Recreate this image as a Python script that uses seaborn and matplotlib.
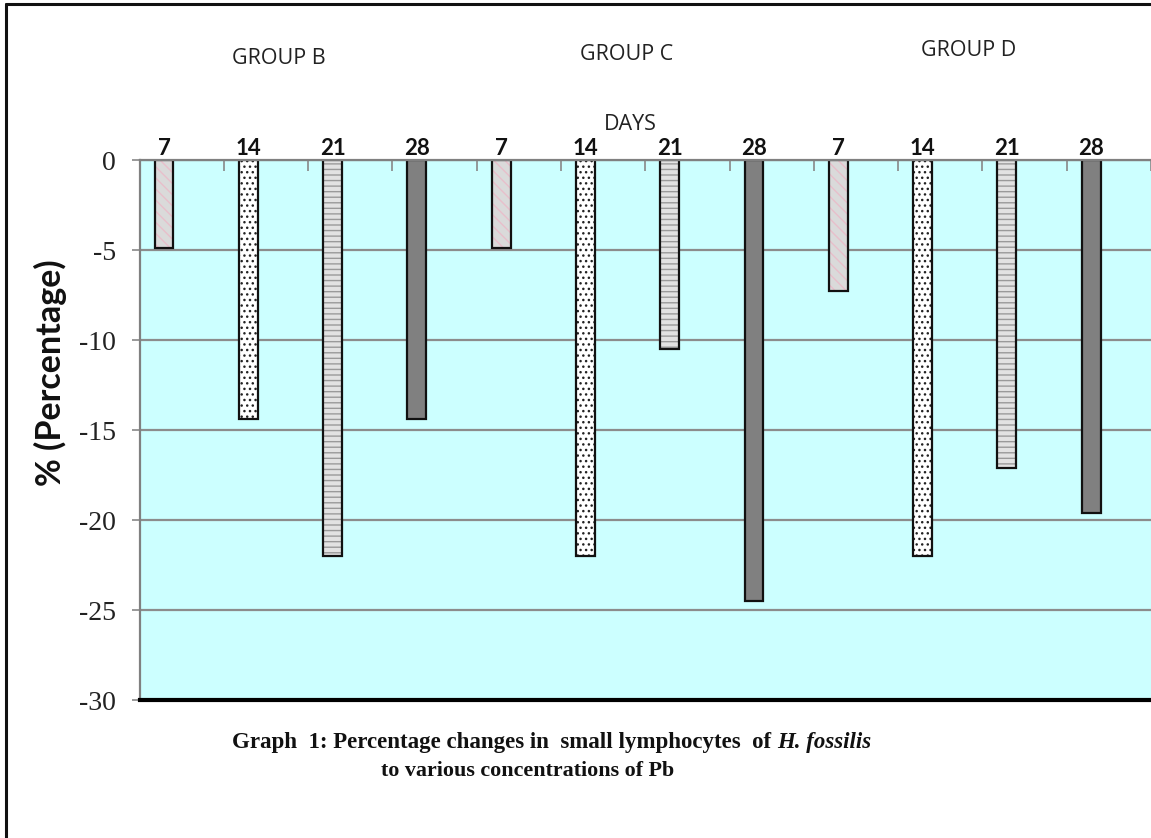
import matplotlib
matplotlib.use("Agg")
import matplotlib.pyplot as plt
from matplotlib.lines import Line2D
import seaborn as sns
import pandas as pd

# Percentage change in small lymphocytes, per group and exposure day
groups = ["GROUP B", "GROUP C", "GROUP D"]
days = ["7", "14", "21", "28"]
group_b = [-4.9, -14.4, -22.0, -14.4]
group_c = [-4.9, -22.0, -10.5, -24.5]
group_d = [-7.3, -22.0, -17.1, -19.6]
y_ticks = [0, -5, -10, -15, -20, -25, -30]

rows = []
for g, vals in zip(groups, [group_b, group_c, group_d]):
    for d, v in zip(days, vals):
        rows.append({"slot": f"{g} {d}", "day": d, "value": v})
df = pd.DataFrame(rows)
slots = list(df["slot"])

sns.set_style("white")
plt.rcParams["hatch.linewidth"] = 1.0

fig = plt.figure(figsize=(11.51, 8.38), dpi=100)
W, H = 1151, 838
ax = fig.add_axes([139.5 / W, 1 - 700 / H, (W - 139.5) / W, 540 / H])
ax.set_facecolor("#CCFFFF")

fills = {"7": "#DADADA", "14": "#FFFFFF", "21": "#E2E2E2", "28": "#808080"}
hatch_cols = {"7": "#E8BFCB", "14": "#222222", "21": "#9A9A9A", "28": "#808080"}
hatches = {"7": "\\\\\\", "14": "...", "21": "---", "28": ""}

# filled, hatched bars
sns.barplot(data=df, x="slot", y="value", hue="day", order=slots,
            hue_order=days, palette=fills, dodge=False, width=0.224,
            linewidth=0, legend=False, ax=ax, zorder=3)
for cont, d in zip(ax.containers, days):
    for p in cont:
        p.set_hatch(hatches[d])
        p.set_edgecolor(hatch_cols[d])
        p.set_linewidth(0)

# black outlines on top
sns.barplot(data=df, x="slot", y="value", hue="day", order=slots,
            hue_order=days, palette={d: "#111111" for d in days}, fill=False,
            dodge=False, width=0.224, linewidth=1.6, legend=False, ax=ax,
            zorder=4)

ax.set_ylim(-30, 0)
ax.set_xlim(-0.29, 11.65)
ax.set_yticks(y_ticks)
ax.set_yticklabels([str(t) for t in y_ticks], fontfamily="Liberation Serif",
                   fontsize=20, color="#222222")
ax.yaxis.grid(True, color="#8C8C8C", linewidth=1.6, zorder=1)
ax.xaxis.grid(False)
ax.set_axisbelow(True)
ax.tick_params(axis="y", left=True, length=6, width=1.2, color="#888888",
               direction="out", pad=11)

ax.xaxis.tick_top()
ax.set_xticks(range(len(slots)))
ax.set_xticklabels(days * len(groups), fontfamily="Lato", fontweight="bold",
                   fontsize=16, color="#111111")
ax.tick_params(axis="x", which="major", length=0, pad=1)
ax.set_xticks([i + 0.71 for i in range(len(slots))], minor=True)
ax.tick_params(axis="x", which="minor", top=True, bottom=False, length=8,
               width=1.2, color="#888888", direction="in")
ax.set_xlabel("")
ax.set_ylabel("")

for side in ["left", "top"]:
    ax.spines[side].set_color("#808080")
    ax.spines[side].set_linewidth(1.6)
ax.spines["right"].set_visible(False)
ax.spines["bottom"].set_color("#000000")
ax.spines["bottom"].set_linewidth(3)
for s in ax.spines.values():
    s.set_zorder(5)

# group and axis captions
for g, (x, y) in zip(groups, [(279, 58), (627, 54), (969, 51)]):
    fig.text(x / W, 1 - y / H, g, fontfamily="Open Sans", fontsize=15.5,
             color="#222222", ha="center", va="center")
fig.text(630 / W, 1 - 124 / H, "DAYS", fontfamily="Open Sans", fontsize=15.5,
         color="#222222", ha="center", va="center")
fig.text(50 / W, 1 - 373 / H, "% (Percentage)", fontfamily="Lato",
         fontweight="bold", fontsize=24.5, rotation=90, ha="center",
         va="center", color="#111111")

# figure caption with italic species name
t1 = fig.text(232 / W, 1 - 753 / H,
              "Graph  1: Percentage changes in  small lymphocytes  of ",
              fontfamily="Liberation Serif", fontweight="bold", fontsize=16.5,
              ha="left", va="bottom", color="#111111")
ax.annotate("H. fossilis", xy=(1, 0), xycoords=t1, ha="left", va="bottom",
            fontfamily="Liberation Serif", fontweight="bold", style="italic",
            fontsize=16.5, color="#111111", annotation_clip=False)
fig.text(381 / W, 1 - 781 / H, "to various concentrations of Pb",
         fontfamily="Liberation Serif", fontweight="bold", fontsize=15.8,
         ha="left", va="bottom", color="#111111")

# outer frame
fig.add_artist(Line2D([5.5 / W, 5.5 / W], [0, 1 - 4 / H],
                      transform=fig.transFigure, color="#111111", lw=2.2))
fig.add_artist(Line2D([5.5 / W, 1], [1 - 4 / H, 1 - 4 / H],
                      transform=fig.transFigure, color="#111111", lw=2.2))

fig.savefig("out.png", dpi=100)
